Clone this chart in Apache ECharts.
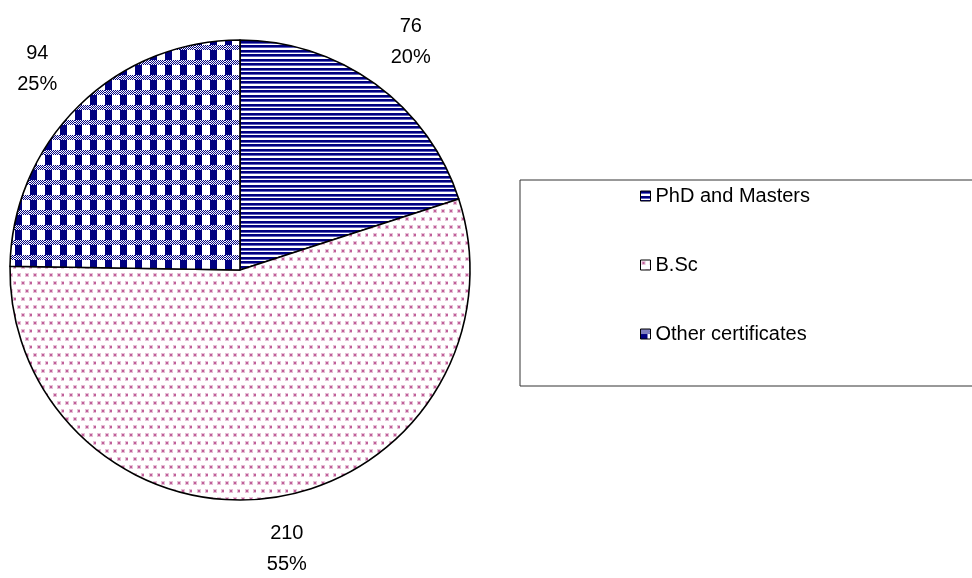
<!DOCTYPE html>
<html>
<head>
<meta charset="utf-8">
<style>
  html, body { margin: 0; padding: 0; background: #fff; }
  #chart { width: 972px; height: 578px; }
</style>
<script src="https://cdn.jsdelivr.net/npm/echarts@6/dist/echarts.min.js"></script>
</head>
<body>
<div id="chart"></div>
<script>
// Qualification breakdown
const categories = ['PhD and Masters', 'B.Sc', 'Other certificates'];
const counts = [76, 210, 94];

const NAVY = '#000080';

// Horizontal navy stripes
function stripePattern() {
  const c = document.createElement('canvas');
  c.width = 8; c.height = 9;
  const g = c.getContext('2d');
  g.fillStyle = '#fff'; g.fillRect(0, 0, 8, 9);
  const rows = ['N', 'N', 'L', 'W', 'W', 'N', 'N', 'L', 'W'];
  rows.forEach((r, y) => {
    g.fillStyle = r === 'N' ? NAVY : r === 'L' ? '#6060c0' : '#ffffff';
    g.fillRect(0, y, 8, 1);
  });
  return c;
}

// Sparse pink dots
function dotPattern() {
  const c = document.createElement('canvas');
  c.width = 16; c.height = 16;
  const g = c.getContext('2d');
  g.fillStyle = '#fff'; g.fillRect(0, 0, 16, 16);
  [[2, 2], [10, 2], [6, 10], [14, 10]].forEach(([x, y]) => {
    g.fillStyle = '#e6c0d6';
    g.fillRect(x - 1, y - 1, 4, 4);
    g.fillStyle = '#c0609a';
    g.fillRect(x, y, 2, 2);
  });
  return c;
}

// Navy columns crossed by fine-checkered bands
function checkPattern() {
  const s = 15;
  const c = document.createElement('canvas');
  c.width = s; c.height = s;
  const g = c.getContext('2d');
  for (let y = 0; y < s; y++) {
    for (let x = 0; x < s; x++) {
      let col;
      if (y < 5) col = ((x + y) % 2 === 0) ? NAVY : '#ffffff';
      else col = (x < 7) ? NAVY : '#ffffff';
      g.fillStyle = col;
      g.fillRect(x, y, 1, 1);
    }
  }
  return c;
}

const fills = [stripePattern(), dotPattern(), checkPattern()];
const total = counts.reduce((a, b) => a + b, 0);

const chart = echarts.init(document.getElementById('chart'), null, { renderer: 'canvas' });
chart.setOption({
  backgroundColor: '#fff',
  animation: false,
  legend: {
    orient: 'vertical',
    left: 520,
    top: 180,
    padding: [6, 420, 42, 120],
    itemGap: 49,
    itemWidth: 10,
    itemHeight: 10,
    icon: 'rect',
    borderColor: '#333',
    borderWidth: 1,
    backgroundColor: '#fff',
    itemStyle: { borderColor: '#000', borderWidth: 1 },
    textStyle: { fontFamily: 'Liberation Sans, Arial, sans-serif', fontSize: 20, color: '#000' },
    data: categories
  },
  series: [{
    type: 'pie',
    center: [240, 270],
    radius: 230,
    startAngle: 90,
    clockwise: true,
    avoidLabelOverlap: false,
    itemStyle: { borderColor: '#000', borderWidth: 1.6 },
    label: {
      show: true,
      position: 'outside',
      fontFamily: 'Liberation Sans, Arial, sans-serif',
      fontSize: 20,
      lineHeight: 31,
      color: '#000',
      formatter: p => p.value + '\n' + Math.round(p.value / total * 100) + '%'
    },
    labelLine: { show: false, length: 52, length2: 0 },
    labelLayout: { align: 'center', verticalAlign: 'middle' },
    emphasis: { disabled: true },
    data: categories.map((name, i) => ({
      name,
      value: counts[i],
      itemStyle: { color: { image: fills[i], repeat: 'repeat' } }
    }))
  }]
});
</script>
</body>
</html>
